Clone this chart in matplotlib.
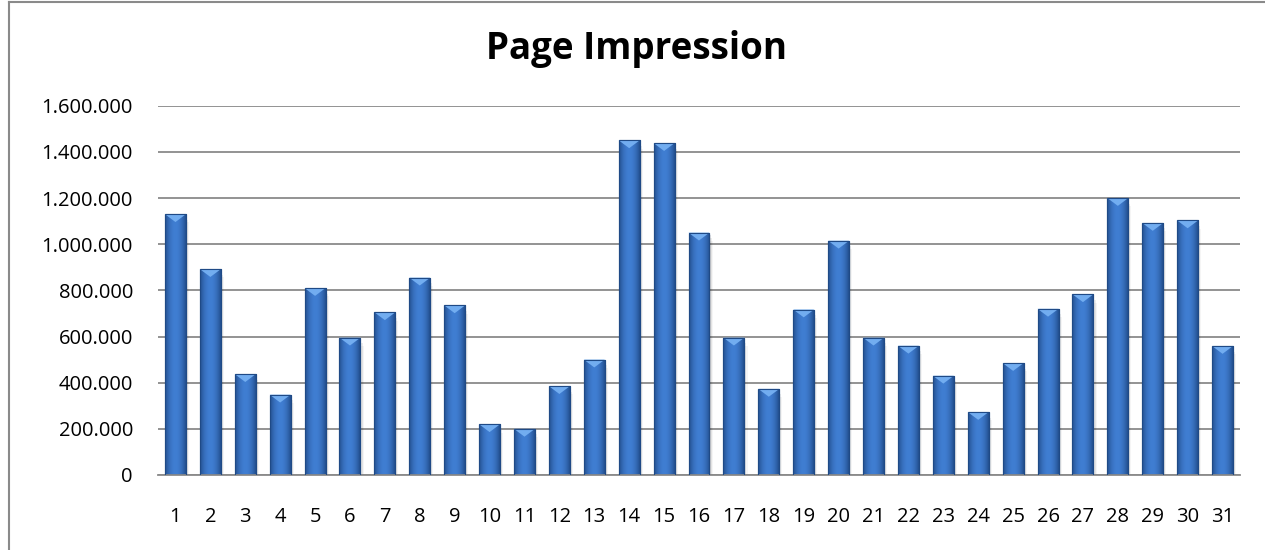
import matplotlib
matplotlib.use("Agg")
import matplotlib.pyplot as plt
import numpy as np
from matplotlib.patches import Polygon, Rectangle
from matplotlib.lines import Line2D
from matplotlib.ticker import FuncFormatter

days = [str(i) for i in range(1, 32)]
impressions = [1130000, 892000, 437000, 348000, 810000, 595000, 705000, 855000, 735000, 220000,
               200000, 385000, 500000, 1450000, 1438000, 1050000, 595000, 373000, 717000, 1015000,
               595000, 560000, 430000, 273000, 485000, 720000, 783000, 1200000, 1092000, 1103000, 559000]
title = "Page Impression"
yticks = [0, 200000, 400000, 600000, 800000, 1000000, 1200000, 1400000, 1600000]

plt.rcParams['font.family'] = ['Open Sans', 'DejaVu Sans']

W, H = 1265, 550
fig = plt.figure(figsize=(W / 100, H / 100), dpi=100)
ax = fig.add_axes([158 / W, 1 - 475 / H, (1240 - 158) / W, (475 - 105.7) / H])

x = np.arange(len(days))
bw = 0.6
ax.set_xlim(-0.5, len(days) - 0.5)
ax.set_ylim(0, 1600000)

# gridlines
ax.set_yticks(yticks)
ax.yaxis.grid(True, color='#8a8a8a', linewidth=1.3, zorder=0)
ax.set_axisbelow(True)
for s in ['top', 'right', 'left']:
    ax.spines[s].set_visible(False)
ax.spines['bottom'].set_color('#8a8a8a')
ax.spines['bottom'].set_linewidth(1.3)

# shadows
for xi, v in zip(x, impressions):
    for k, a in enumerate([0.10, 0.07, 0.04]):
        ax.add_patch(Rectangle((xi - bw / 2 + 0.03 * (k + 1), -12000 * (k + 1)), bw, v,
                               facecolor='black', alpha=a, edgecolor='none', zorder=1))

bars = ax.bar(x, impressions, width=bw, color='#3868b0', edgecolor='#1f4a86', linewidth=0.8, zorder=2)

# horizontal gradient
prof = np.linspace(-1, 1, 64)
shade = 1 - prof ** 2
dark = np.array([0x23, 0x4f, 0x8e]) / 255
light = np.array([0x40, 0x7e, 0xd2]) / 255
grad = dark[None, :] + (light - dark)[None, :] * shade[:, None]
grad_img = grad[None, :, :]
for b, xi, v in zip(bars, x, impressions):
    im = ax.imshow(grad_img, extent=(xi - bw / 2, xi + bw / 2, 0, v), aspect='auto',
                   zorder=2.5, interpolation='bilinear')
    im.set_clip_path(b)
    # top bevel
    th = 34000
    tri = Polygon([(xi - bw / 2, v), (xi + bw / 2, v), (xi, v - th)], closed=True,
                  facecolor='#72adf0', edgecolor='none', zorder=3)
    ax.add_patch(tri)
    ax.add_patch(Rectangle((xi - bw / 2, v - 3000), bw, 3000, facecolor='#8cc0f5',
                           edgecolor='none', zorder=3.1))
    ax.add_patch(Rectangle((xi - bw / 2, 0), bw, v, facecolor='none', edgecolor='#1f4a86',
                           linewidth=0.8, zorder=3.2))

ax.set_xticks(x)
ax.set_xticklabels(days)
ax.yaxis.set_major_formatter(FuncFormatter(lambda v, p: f"{int(v):,}".replace(",", ".")))
ax.tick_params(axis='y', length=0, pad=18, labelsize=14.5, colors='black')
ax.tick_params(axis='x', length=0, pad=23, labelsize=14.5, colors='black')

fig.text(637 / W, 1 - 49 / H, title, ha='center', va='center', fontsize=26.5, fontweight='bold')

# chart frame
fig.add_artist(Line2D([8.5 / W, 8.5 / W], [0, 1 - 2 / H], color='#8a8a8a', linewidth=1.5,
                      transform=fig.transFigure))
fig.add_artist(Line2D([8.5 / W, 1], [1 - 2 / H, 1 - 2 / H], color='#8a8a8a', linewidth=1.5,
                      transform=fig.transFigure))

fig.savefig("out.png", dpi=100)
